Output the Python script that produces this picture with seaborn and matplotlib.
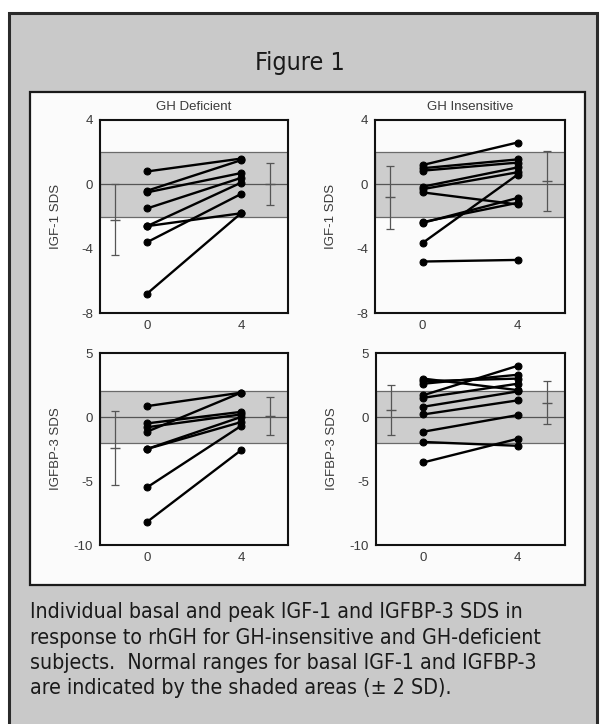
"""
Figure 1: basal (week 0) and peak (week 4) IGF-1 and IGFBP-3 SDS
for GH-deficient and GH-insensitive subjects.
"""

import matplotlib
matplotlib.use("Agg")
import matplotlib.pyplot as plt
from matplotlib.patches import Rectangle
import seaborn as sns
import pandas as pd
import numpy as np

# Data
weeks = [0, 4]

igf1_def_basal = [0.8, -0.4, -0.5, -1.5, -2.6, -2.6, -3.6, -6.8]
igf1_def_peak = [1.6, 1.5, 0.7, 0.4, 0.1, -1.8, -0.6, -1.8]

igf1_ins_basal = [1.2, 1.0, 0.85, -0.15, -0.3, -0.5, -2.4, -2.35, -3.65, -4.8]
igf1_ins_peak = [2.6, 1.55, 1.35, 1.05, 0.75, -1.25, -0.85, -1.15, 0.6, -4.7]

bp3_def_basal = [0.85, -0.5, -0.8, -1.15, -2.5, -2.5, -5.5, -8.2]
bp3_def_peak = [1.9, 0.4, 0.2, 1.9, 0.0, -0.4, -0.7, -2.6]

bp3_ins_basal = [3.0, 2.8, 2.6, 1.7, 1.5, 0.8, 0.2, -1.15, -1.95, -3.55]
bp3_ins_peak = [2.1, 3.0, 3.3, 4.0, 2.6, 2.0, 1.3, 0.15, -2.25, -1.7]

# group mean +/- SD bars, (basal, peak)
igf1_def_mean, igf1_def_sd = [-2.2, 0.0], [2.2, 1.3]
igf1_ins_mean, igf1_ins_sd = [-0.8, 0.2], [1.95, 1.85]
bp3_def_mean, bp3_def_sd = [-2.45, 0.1], [2.9, 1.5]
bp3_ins_mean, bp3_ins_sd = [0.55, 1.13], [1.95, 1.7]

igf1_ticks = [-8, -4, 0, 4]
bp3_ticks = [-10, -5, 0, 5]

MEAN_X = [-1.35, 5.25]
W, H = 602, 724

sns.set_theme(style="white")
plt.rcParams["font.family"] = ["Liberation Sans", "DejaVu Sans"]
plt.rcParams["axes.unicode_minus"] = False


def frac_rect(x0, y0, x1, y1):
    """pixel box (top-left origin) -> figure fraction [l, b, w, h]"""
    return [x0 / W, 1 - y1 / H, (x1 - x0) / W, (y1 - y0) / H]


def draw_panel(ax, basal, peak, means, sds, ticks, ylabel, title=None):
    n = len(basal)
    df = pd.DataFrame({
        "subject": np.repeat(np.arange(n), 2),
        "week": weeks * n,
        "sds": [v for pair in zip(basal, peak) for v in pair],
    })
    ax.set_facecolor("#fbfbfb")
    ax.axhspan(-2, 2, facecolor="#cdcdcd", edgecolor="#6a6a6a", lw=0.9, zorder=1)
    ax.axhline(0, color="#555555", lw=0.9, zorder=2)
    sns.lineplot(data=df, x="week", y="sds", units="subject", estimator=None,
                 color="black", marker="o", markersize=5, lw=1.7,
                 markeredgecolor="black", ax=ax, zorder=4)
    ax.errorbar(MEAN_X, means, yerr=sds, fmt="_", color="#555555",
                ecolor="#555555", elinewidth=0.9, capsize=3, capthick=0.9,
                markersize=7, zorder=3)
    ax.set_xlim(-2, 6)
    ax.set_ylim(ticks[0], ticks[-1])
    ax.set_xticks(weeks)
    ax.set_yticks(ticks)
    ax.tick_params(length=0, labelsize=9.5, colors="#3a3a3a", pad=5)
    for sp in ax.spines.values():
        sp.set_visible(True)
        sp.set_color("#111111")
        sp.set_linewidth(1.5)
    ax.set_xlabel("")
    ax.set_ylabel(ylabel, fontsize=9.5, color="#3a3a3a")
    ax.yaxis.set_label_coords(-0.2, 0.5)
    if title:
        ax.text(0.5, 1.067, title, transform=ax.transAxes, ha="center",
                va="center", fontsize=9.5, color="#3a3a3a")


fig = plt.figure(figsize=(W / 100, H / 100), dpi=100)
fig.patch.set_facecolor("white")

# grey card and white plot box, kept behind the axes
l, b, w, h = frac_rect(9, 13, 597, 740)
fig.patches.append(Rectangle((l, b), w, h, transform=fig.transFigure,
                             facecolor="#c9c9c9", edgecolor="#2a2a2a", lw=2.2, zorder=-2))
l, b, w, h = frac_rect(30, 92, 585, 585)
fig.patches.append(Rectangle((l, b), w, h, transform=fig.transFigure,
                             facecolor="#fbfbfb", edgecolor="#1a1a1a", lw=1.6, zorder=-1))

fig.text(300 / W, 1 - 63 / H, "Figure 1", ha="center", va="center",
         fontsize=18, family="DejaVu Sans", fontstretch="condensed", color="#1a1a1a")

ax_tl = fig.add_axes(frac_rect(100, 120, 288, 313))
ax_tr = fig.add_axes(frac_rect(375, 120, 565, 313))
ax_bl = fig.add_axes(frac_rect(100, 353, 288, 545))
ax_br = fig.add_axes(frac_rect(376, 353, 565, 545))

draw_panel(ax_tl, igf1_def_basal, igf1_def_peak, igf1_def_mean, igf1_def_sd,
           igf1_ticks, "IGF-1 SDS", "GH Deficient")
draw_panel(ax_tr, igf1_ins_basal, igf1_ins_peak, igf1_ins_mean, igf1_ins_sd,
           igf1_ticks, "IGF-1 SDS", "GH Insensitive")
draw_panel(ax_bl, bp3_def_basal, bp3_def_peak, bp3_def_mean, bp3_def_sd,
           bp3_ticks, "IGFBP-3 SDS")
draw_panel(ax_br, bp3_ins_basal, bp3_ins_peak, bp3_ins_mean, bp3_ins_sd,
           bp3_ticks, "IGFBP-3 SDS")

caption = [
    "Individual basal and peak IGF-1 and IGFBP-3 SDS in",
    "response to rhGH for GH-insensitive and GH-deficient",
    "subjects.  Normal ranges for basal IGF-1 and IGFBP-3",
    "are indicated by the shaded areas (\u00b1 2 SD).",
]
for i, line in enumerate(caption):
    fig.text(30 / W, 1 - (612 + 25.5 * i) / H, line, ha="left", va="center",
             fontsize=15.3, family="DejaVu Sans", fontstretch="condensed",
             color="#1a1a1a")

fig.savefig("out.png", dpi=100)
plt.close(fig)
